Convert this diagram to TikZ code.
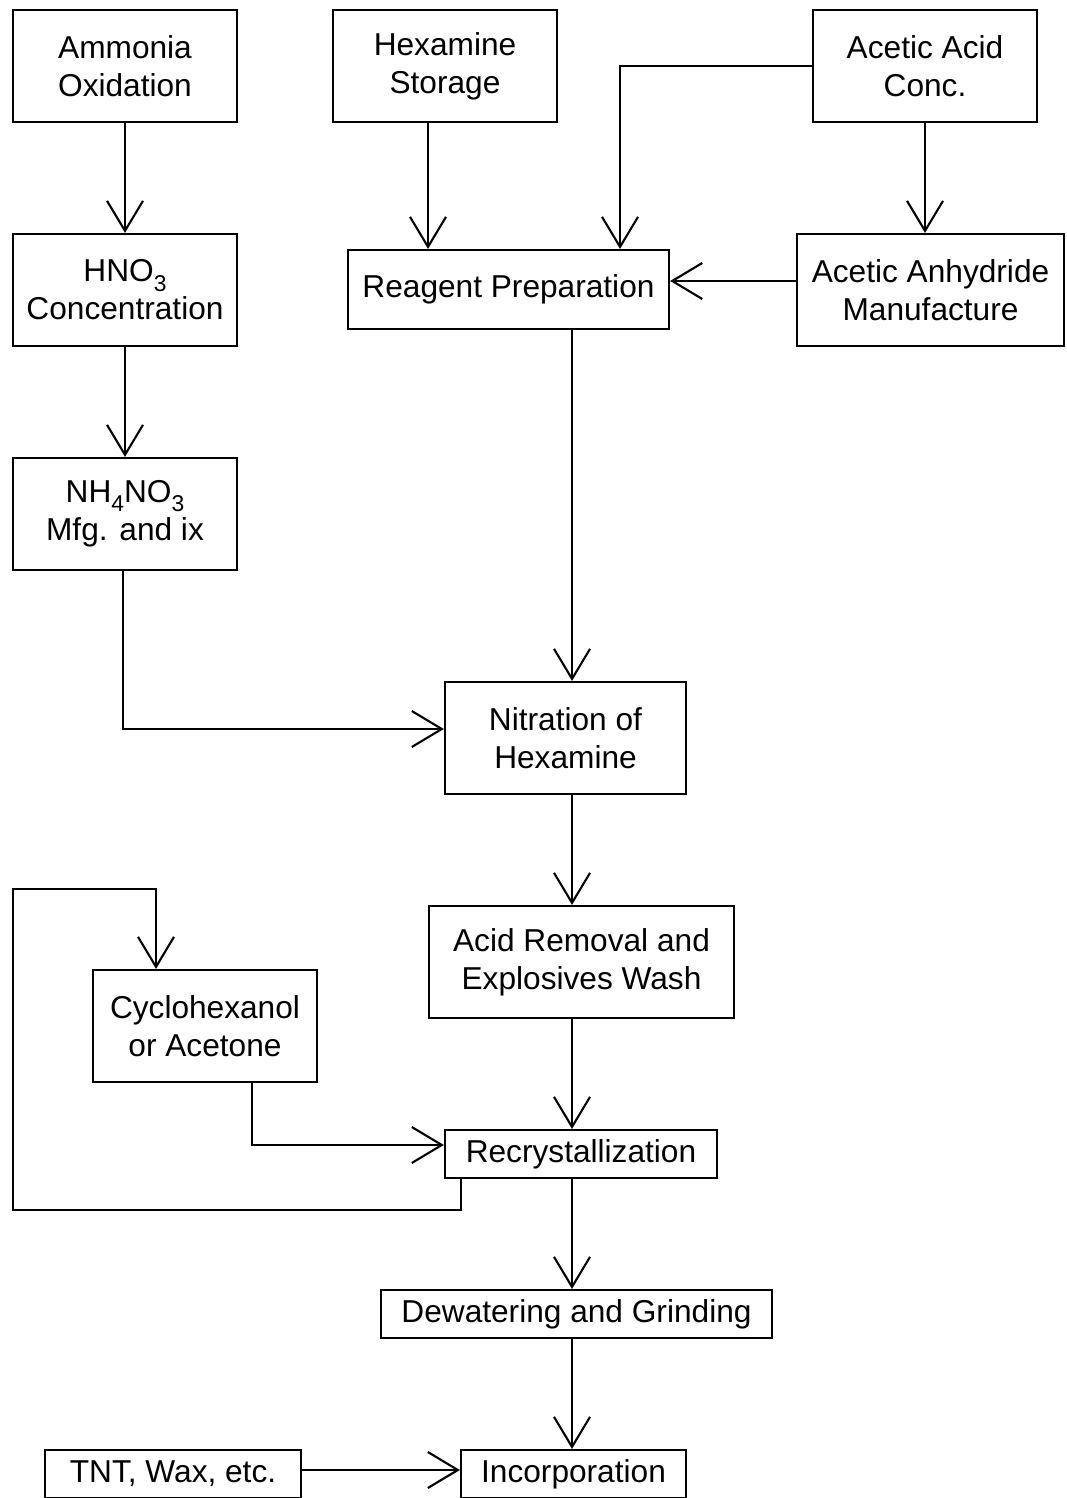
\documentclass[tikz,border=0pt]{standalone}
\usepackage{fontspec}
\setmainfont{Liberation Sans}
\usepackage{tikz}
\usetikzlibrary{arrows.meta,positioning,calc}
\newcommand{\chemsub}[1]{\raisebox{-0.55ex}{\fontsize{6.5pt}{7pt}\selectfont #1}}

\begin{document}
\begin{tikzpicture}[x=0.01cm, y=-0.01cm, line width=0.6pt,
    every node/.style={font=\fontsize{9pt}{10.8pt}\selectfont, align=center},
    box/.style={draw, inner sep=0pt, minimum width=2.24cm, minimum height=1.12cm},
    flow/.style={-{Straight Barb[length=0.3cm, width=0.36cm]}}]
  \useasboundingbox (0,0) rectangle (1066,1498);
  % top row
  \node[box] (amm) at (125,66) {Ammonia\\Oxidation};
  \node[box] (hex) at (445,66) {Hexamine\\Storage};
  \node[box] (acet) at (925,66) {Acetic Acid\\Conc.};
  % second row
  \node[box] (hno) at (125,290) {HNO\chemsub{3}\\Concentration};
  \node[box, minimum width=3.21cm, minimum height=0.79cm] (reag) at (508.5,289.5) {Reagent Preparation};
  \node[box, minimum width=2.67cm] (anh) at (930.5,290) {Acetic Anhydride\\Manufacture};
  \node[box] (nh4) at (125,514) {NH\chemsub{4}NO\chemsub{3}\\Mfg. and ix};
  % main line
  \node[box, minimum width=2.41cm] (nit) at (565.5,738) {Nitration of\\Hexamine};
  \node[box, minimum width=3.05cm] (acid) at (581.5,962) {Acid Removal and\\Explosives Wash};
  \node[box] (cyc) at (205,1026) {Cyclohexanol\\or Acetone};
  \node[box, minimum width=2.72cm, minimum height=0.48cm] (rec) at (581,1154) {Recrystallization};
  \node[box, minimum width=3.91cm, minimum height=0.48cm] (dew) at (576.5,1314) {Dewatering and Grinding};
  \node[box, minimum width=2.56cm, minimum height=0.48cm] (tnt) at (173,1474) {TNT, Wax, etc.};
  \node[box, minimum width=2.25cm, minimum height=0.48cm] (inc) at (573.5,1474) {Incorporation};
  % loop corners
  \coordinate (lp1) at (13,1210);
  \coordinate (lp2) at (13,889);

  \draw[flow] (amm) -- (hno);
  \draw[flow] (hno) -- (nh4);
  \draw[flow] (hex.south -| 428,0) -- (reag.north -| 428,0);
  \draw[flow] (acet.west) -| (reag.north -| 620,0);
  \draw[flow] (acet) -- (anh.north -| acet.south);
  \draw[flow] (anh.west |- 0,281) -- (reag.east |- 0,281);
  \draw[flow] (reag.south -| 572,0) -- (nit.north -| 572,0);
  \draw[flow] (nh4.south -| 123,0) |- (nit.west |- 0,729);
  \draw[flow] (nit.south -| 572,0) -- (acid.north -| 572,0);
  \draw[flow] (acid.south -| 572,0) -- (rec.north -| 572,0);
  \draw[flow] (cyc.south -| 252,0) |- (rec.west |- 0,1145);
  \draw[flow] (rec.south -| 461,0) |- (lp1) -- (lp2) -| (cyc.north -| 156,0);
  \draw[flow] (rec.south -| 572,0) -- (dew.north -| 572,0);
  \draw[flow] (dew.south -| 572,0) -- (inc.north -| 572,0);
  \draw[flow] (tnt.east |- 0,1470) -- (inc.west |- 0,1470);
\end{tikzpicture}
\end{document}
